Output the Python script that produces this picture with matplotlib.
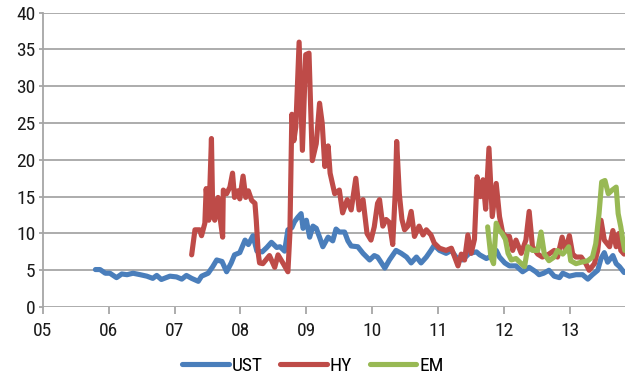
import matplotlib
matplotlib.use("Agg")
import matplotlib.pyplot as plt
from matplotlib import font_manager

# ---- data (x in years since 2000, e.g. 8.5 = mid-2008) ----
ust_x = [5.80, 5.87, 5.95, 6.02, 6.12, 6.20, 6.28, 6.37, 6.48, 6.58, 6.67, 6.73, 6.80, 6.93,
         7.03, 7.11, 7.18, 7.26, 7.36, 7.41, 7.51, 7.58, 7.64, 7.72, 7.79, 7.86, 7.91, 7.99,
         8.07, 8.12, 8.19, 8.25, 8.33, 8.40, 8.47, 8.55, 8.60, 8.67, 8.72, 8.78, 8.82, 8.87,
         8.92, 8.95, 9.00, 9.05, 9.10, 9.15, 9.20, 9.25, 9.33, 9.40, 9.45, 9.50, 9.58, 9.63,
         9.68, 9.78, 9.86, 9.96, 10.03, 10.08, 10.11, 10.19, 10.26, 10.36, 10.44, 10.52, 10.59,
         10.67, 10.74, 10.82, 10.89, 10.94, 11.02, 11.12, 11.20, 11.27, 11.37, 11.47, 11.58,
         11.63, 11.73, 11.78, 11.88, 11.93, 12.01, 12.08, 12.18, 12.28, 12.38, 12.48, 12.53,
         12.60, 12.68, 12.76, 12.84, 12.89, 12.99, 13.09, 13.19, 13.27, 13.34, 13.42, 13.47,
         13.52, 13.57, 13.65, 13.70, 13.75, 13.82]
ust_y = [5.1, 5.1, 4.6, 4.6, 4.0, 4.5, 4.4, 4.6, 4.4, 4.2, 3.9, 4.3, 3.75, 4.2,
         4.1, 3.8, 4.3, 3.9, 3.5, 4.2, 4.6, 5.5, 6.4, 6.2, 4.8, 6.0, 7.1, 7.4,
         9.1, 8.5, 9.7, 7.6, 7.5, 8.1, 8.8, 8.1, 8.2, 7.6, 10.5, 10.8, 11.6, 12.2,
         12.7, 10.7, 11.8, 9.5, 11.0, 10.7, 9.5, 8.2, 9.5, 9.0, 10.6, 10.2, 10.2, 9.0,
         8.3, 8.2, 7.3, 6.4, 7.0, 6.8, 6.4, 5.3, 6.4, 7.7, 7.3, 6.8, 6.0,
         6.8, 6.0, 6.8, 7.7, 8.4, 7.7, 7.3, 7.7, 6.8, 6.4, 7.3, 7.5,
         7.1, 6.6, 6.8, 7.7, 6.8, 6.0, 5.6, 5.6, 4.8, 5.4, 4.8, 4.4,
         4.6, 5.0, 4.2, 4.0, 4.6, 4.2, 4.4, 4.4, 3.8, 4.4, 5.0, 6.6,
         7.4, 6.1, 7.0, 5.9, 5.5, 4.7]

hy_x = [7.26, 7.31, 7.38, 7.41, 7.46, 7.48, 7.52, 7.56, 7.58, 7.61, 7.66, 7.69, 7.73, 7.74,
        7.79, 7.84, 7.88, 7.91, 7.96, 7.99, 8.04, 8.08, 8.12, 8.17, 8.22, 8.24, 8.27, 8.29,
        8.34, 8.44, 8.52, 8.57, 8.65, 8.72, 8.75, 8.78, 8.81, 8.84, 8.89, 8.94, 8.99, 9.04,
        9.09, 9.15, 9.20, 9.24, 9.28, 9.33, 9.36, 9.43, 9.50, 9.55, 9.62, 9.68, 9.75, 9.80,
        9.86, 9.92, 9.98, 10.03, 10.08, 10.11, 10.16, 10.21, 10.26, 10.31, 10.35, 10.37,
        10.41, 10.45, 10.49, 10.54, 10.59, 10.64, 10.71, 10.77, 10.82, 10.89, 10.94, 11.02,
        11.12, 11.20, 11.25, 11.30, 11.35, 11.40, 11.45, 11.50, 11.55, 11.59, 11.64, 11.68,
        11.72, 11.77, 11.82, 11.88, 11.93, 11.98, 12.03, 12.08, 12.13, 12.18, 12.26, 12.33,
        12.38, 12.43, 12.51, 12.58, 12.68, 12.76, 12.81, 12.88, 12.93, 12.99, 13.04, 13.09,
        13.17, 13.24, 13.29, 13.37, 13.42, 13.47, 13.52, 13.60, 13.65, 13.70, 13.74, 13.77,
        13.82]
hy_y = [7.1, 10.5, 10.5, 9.7, 11.4, 16.1, 11.8, 22.9, 12.7, 11.8, 14.9, 12.2, 9.5, 15.9,
        15.4, 16.3, 18.2, 14.9, 15.8, 14.7, 17.8, 14.9, 15.8, 14.5, 14.1, 11.8, 7.3, 6.0,
        5.9, 7.0, 5.4, 7.1, 5.9, 4.8, 10.0, 26.2, 22.6, 24.5, 36.0, 21.3, 34.3, 34.5,
        19.9, 22.2, 27.7, 25.0, 19.1, 21.9, 18.2, 15.4, 15.9, 12.8, 14.6, 13.2, 17.5, 13.2,
        14.6, 10.0, 9.1, 10.9, 14.1, 14.6, 11.0, 11.9, 11.5, 8.5, 15.9, 22.5,
        15.4, 11.9, 10.5, 11.0, 13.0, 9.6, 11.0, 9.8, 10.5, 9.8, 8.7, 8.0,
        7.7, 8.0, 6.8, 5.6, 7.2, 6.4, 9.8, 7.3, 9.2, 17.7, 15.0, 17.3,
        13.3, 21.6, 12.3, 16.8, 12.3, 10.0, 9.6, 9.6, 7.7, 9.1, 7.3, 9.1,
        13.0, 8.2, 7.2, 6.8, 7.2, 7.7, 6.8, 9.5, 7.7, 9.7, 7.2, 6.8,
        6.8, 5.9, 5.0, 5.9, 7.7, 11.8, 9.1, 8.2, 10.4, 8.2, 10.0, 7.7,
        7.2]

em_x = [11.75, 11.80, 11.84, 11.88, 11.92, 11.97, 12.02, 12.06, 12.11, 12.18, 12.26, 12.31,
        12.36, 12.43, 12.51, 12.56, 12.61, 12.68, 12.76, 12.81, 12.89, 12.94, 12.98, 13.01,
        13.09, 13.17, 13.27, 13.34, 13.39, 13.44, 13.48, 13.53, 13.58, 13.64, 13.70, 13.73,
        13.77, 13.80, 13.83]
em_y = [10.9, 6.8, 5.9, 11.4, 10.5, 10.0, 9.2, 7.3, 6.4, 6.6, 5.9, 5.5,
        8.2, 7.7, 7.7, 10.2, 7.2, 6.3, 6.8, 7.7, 7.2, 7.7, 8.2, 6.3,
        5.9, 6.1, 6.3, 6.8, 8.6, 12.7, 17.0, 17.2, 15.4, 15.9, 16.3, 12.7,
        10.9, 9.1, 7.7]

year_ticks = [5, 6, 7, 8, 9, 10, 11, 12, 13]
year_labels = ["05", "06", "07", "08", "09", "10", "11", "12", "13"]
y_ticks = [0, 5, 10, 15, 20, 25, 30, 35, 40]
series_names = ["UST", "HY", "EM"]

# ---- style ----
avail = {f.name for f in font_manager.fontManager.ttflist}
fam = [f for f in ["Liberation Sans Narrow", "Roboto Condensed", "Roboto", "Liberation Sans"] if f in avail] + ["DejaVu Sans"]
plt.rcParams["font.family"] = fam

grid_c = "#a6a6a6"
fig = plt.figure(figsize=(6.26, 3.81), dpi=100)
ax = fig.add_axes([0.0682, 0.194, 0.9298, 0.7727])

lw = 3.7
ax.plot(ust_x, ust_y, color="#4a7ebb", lw=lw, solid_capstyle="round", solid_joinstyle="round", label=series_names[0], zorder=3)
ax.plot(hy_x, hy_y, color="#be4b48", lw=lw, solid_capstyle="round", solid_joinstyle="round", label=series_names[1], zorder=4)
ax.plot(em_x, em_y, color="#98b954", lw=lw, solid_capstyle="round", solid_joinstyle="round", label=series_names[2], zorder=5)

ax.set_xlim(5, 13.83)
ax.set_ylim(0, 40)
ax.set_xticks(year_ticks)
ax.set_xticklabels(year_labels)
ax.set_yticks(y_ticks)
ax.yaxis.grid(True, color=grid_c, lw=1.3)
ax.set_axisbelow(True)
for s in ["top", "right", "bottom"]:
    ax.spines[s].set_visible(False)
ax.spines["left"].set_color(grid_c)
ax.spines["left"].set_linewidth(1.3)
ax.tick_params(axis="y", length=3, width=1.3, color=grid_c, pad=2, labelsize=14, labelcolor="#1a1a1a")
ax.tick_params(axis="x", length=5, width=1.3, color=grid_c, pad=6, labelsize=14, labelcolor="#1a1a1a")

fig.legend(loc="lower center", bbox_to_anchor=(0.5, -0.015), ncol=3, frameon=False,
           fontsize=14, handlelength=2.4, handletextpad=0.15, columnspacing=0.9,
           borderaxespad=0.2)

fig.savefig("out.png", dpi=100)
